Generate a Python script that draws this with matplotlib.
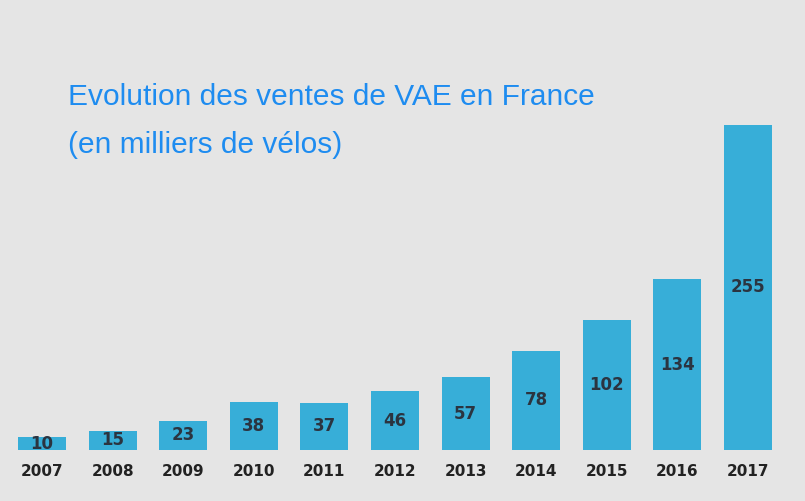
import matplotlib
matplotlib.use("Agg")
import matplotlib.pyplot as plt
import matplotlib.transforms as mtransforms

years = ["2007", "2008", "2009", "2010", "2011", "2012", "2013", "2014", "2015", "2016", "2017"]
sales = [10, 15, 23, 38, 37, 46, 57, 78, 102, 134, 255]

bg = "#e5e5e5"
fig = plt.figure(figsize=(8.05, 5.01), dpi=100, facecolor=bg)
ax = fig.add_axes([0, 51 / 501, 1, 450 / 501])
ax.set_facecolor(bg)
x = list(range(len(years)))
ax.bar(x, sales, width=0.68, color="#37aed8")
ax.set_xlim(-0.595, 10.807)
ax.set_ylim(0, 353)
for s in ax.spines.values():
    s.set_visible(False)
ax.set_xticks([])
ax.set_yticks([])

for xi, v, yr in zip(x, sales, years):
    ax.text(xi, v / 2, str(v), ha="center", va="center", fontsize=12,
            fontweight="bold", color="#2b3440", family="DejaVu Sans")
    tr = mtransforms.blended_transform_factory(ax.transData, fig.transFigure)
    ax.text(xi, 29 / 501, yr, transform=tr, ha="center", va="center",
            fontsize=11, fontweight="bold", color="#222222")

fig.text(68 / 805, 1 - 97 / 501, "Evolution des ventes de VAE en France",
         fontsize=21.5, color="#1e8cf0", va="center", ha="left", family="Liberation Sans")
fig.text(68 / 805, 1 - 145 / 501, "(en milliers de vélos)",
         fontsize=21.5, color="#1e8cf0", va="center", ha="left", family="Liberation Sans")

fig.savefig("out.png", dpi=100, facecolor=bg)
